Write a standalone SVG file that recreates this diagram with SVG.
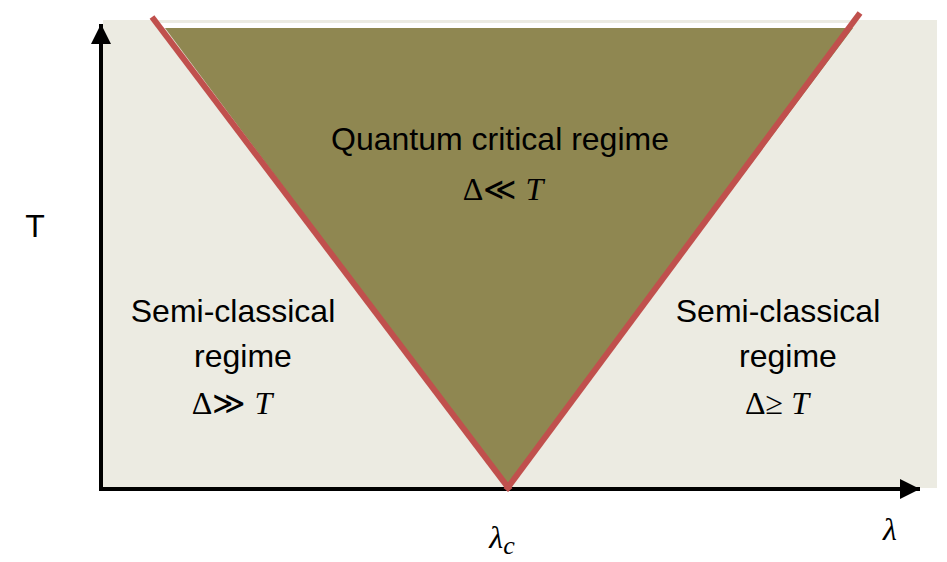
<svg xmlns="http://www.w3.org/2000/svg" width="947" height="562" viewBox="0 0 947 562">
<style>
.t{font-family:"Liberation Sans",Arial,sans-serif;font-size:32px;fill:#000;text-anchor:middle}
.m{font-family:"Liberation Serif","Times New Roman",serif;font-size:32px;fill:#000;text-anchor:middle}
.ax{stroke:#000;stroke-width:4;fill:none}
.red{stroke:#c0504d;stroke-width:6;stroke-linecap:butt}
</style>
<defs>
<marker id="ah" markerWidth="6" markerHeight="6" refX="5" refY="3" orient="auto" markerUnits="strokeWidth"><path d="M0,0.5 L5,3 L0,5.5 Z" fill="#000"/></marker>
</defs>
<rect x="103" y="20" width="834" height="468" fill="#ecebe2"/>
<rect x="160" y="23" width="690" height="5" fill="#ffffff"/>
<g id="critical"><polygon points="165,28 853,28 508,488" fill="#8f8751"/></g>
<g id="connectors">
<line class="ax" x1="101" y1="489" x2="101" y2="24" marker-end="url(#ah)"/>
<line class="ax" x1="99" y1="489" x2="920" y2="489" marker-end="url(#ah)"/>
<line class="red" x1="152" y1="17" x2="510" y2="490"/>
<line class="red" x1="506" y1="490" x2="860" y2="13"/>
</g>
<g id="labels">
<text class="t" x="35" y="237">T</text>
<text class="t" x="500" y="150">Quantum critical regime</text>
<text class="m" x="503" y="200">Δ≪ <tspan font-style="italic">T</tspan></text>
<text class="t" x="233" y="322">Semi-classical</text>
<text class="t" x="243" y="367">regime</text>
<text class="m" x="232" y="414">Δ≫ <tspan font-style="italic">T</tspan></text>
<text class="t" x="778" y="322">Semi-classical</text>
<text class="t" x="788" y="367">regime</text>
<text class="m" x="777" y="414">Δ≥ <tspan font-style="italic">T</tspan></text>
<text class="m" x="502" y="548" font-style="italic" font-size="36">λ<tspan font-size="26" dy="6">c</tspan></text>
<text class="m" x="890" y="540" font-style="italic" font-size="36">λ</text>
</g>
</svg>
